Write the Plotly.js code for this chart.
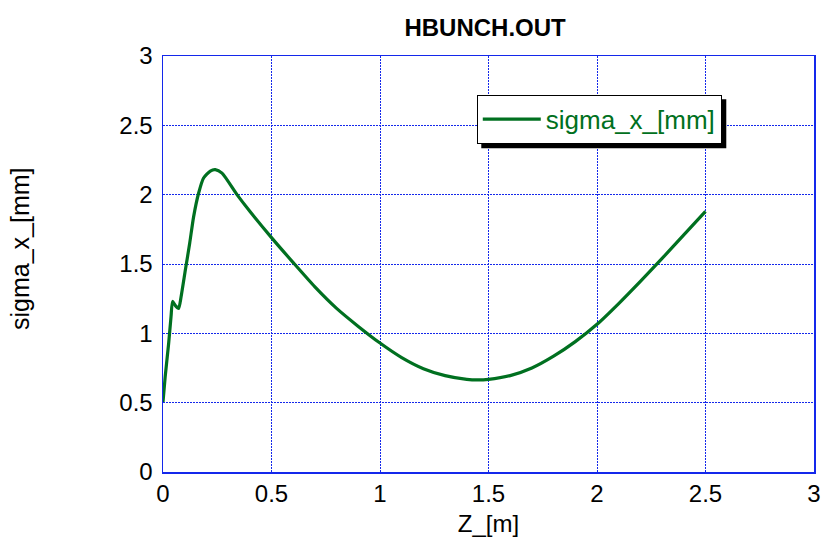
<!DOCTYPE html>
<html>
<head>
<meta charset="utf-8">
<script src="https://cdn.plot.ly/plotly-3.0.1.min.js"></script>
<style>html,body{margin:0;padding:0;background:#fff;}#chart{width:825px;height:545px;}</style>
</head>
<body>
<div id="chart"></div>
<script>
var zValues = [0, 0.01, 0.026, 0.037, 0.044, 0.057, 0.072, 0.083, 0.103, 0.123, 0.141, 0.164, 0.187, 0.218, 0.241, 0.272, 0.341, 0.4, 0.5, 0.6, 0.7, 0.8, 0.9, 1.0, 1.1, 1.2, 1.3, 1.4, 1.45, 1.5, 1.6, 1.7, 1.8, 1.9, 2.0, 2.1, 2.2, 2.3, 2.4, 2.5];
var sigmaX = [0.505, 0.686, 0.927, 1.12, 1.23, 1.2, 1.18, 1.26, 1.456, 1.65, 1.84, 2.01, 2.12, 2.17, 2.18, 2.155, 2.0, 1.88, 1.69, 1.51, 1.335, 1.18, 1.05, 0.93, 0.825, 0.745, 0.695, 0.668, 0.664, 0.668, 0.695, 0.75, 0.835, 0.94, 1.065, 1.215, 1.375, 1.54, 1.71, 1.88];
var seriesName = "sigma_x_[mm]";
var chartTitle = "HBUNCH.OUT";
var xTitle = "Z_[m]";
var yTitle = "sigma_x_[mm]";
var tickVals = [0, 0.5, 1, 1.5, 2, 2.5, 3];
var tickText = ["0", "0.5", "1", "1.5", "2", "2.5", "3"];

var green = "rgb(0,112,32)";
var blue = "rgb(20,40,235)";
var font = "Liberation Sans, Arial, Helvetica, sans-serif";

var trace = {
  x: zValues, y: sigmaX, type: "scatter", mode: "lines", name: seriesName,
  line: {color: green, width: 3.2, shape: "spline", smoothing: 0.6}
};

var axisCommon = {
  range: [0, 3], tickvals: tickVals, ticktext: tickText,
  showgrid: true, gridcolor: blue, gridwidth: 1, griddash: "2px,1px",
  showline: true, linecolor: blue, linewidth: 1.5, mirror: true,
  zeroline: false, ticks: "", tickfont: {family: font, size: 24, color: "#000"}
};

var layout = {
  width: 825, height: 545,
  margin: {l: 163, r: 11, t: 56, b: 73},
  paper_bgcolor: "#fff", plot_bgcolor: "#fff",
  title: {text: "<b>" + chartTitle + "</b>", font: {family: font, size: 24, color: "#000"}, x: 0.588, xanchor: "center", y: 0.95, yanchor: "middle"},
  xaxis: Object.assign({}, axisCommon, {title: {text: xTitle, font: {family: font, size: 24, color: "#000"}, standoff: 9}}),
  yaxis: Object.assign({}, axisCommon, {ticklabelstandoff: 4}),
  showlegend: true,
  legend: {
    x: 0.482, y: 0.907, xanchor: "left", yanchor: "top",
    bgcolor: "#fff", bordercolor: "#000", borderwidth: 1,
    font: {family: font, size: 26, color: green},
    itemwidth: 58
  },
  shapes: [{
    type: "rect", xref: "paper", yref: "paper", layer: "above",
    x0: 0.487, x1: 0.866, y0: 0.794, y1: 0.895,
    fillcolor: "#000", line: {width: 0}
  }],
  annotations: [{
    text: yTitle, xref: "paper", yref: "paper", x: -0.22, y: 0.538,
    xanchor: "center", yanchor: "middle", textangle: -90, showarrow: false,
    font: {family: font, size: 25, color: "#000"}
  }]
};

var gd = document.getElementById("chart");
Plotly.newPlot(gd, [trace], layout, {displayModeBar: false, staticPlot: true}).then(function () {
  // place the drop shadow just behind the legend box, offset by 4px
  var bg = gd.querySelector(".legend .bg");
  if (!bg) return;
  var r = bg.getBoundingClientRect();
  var g = gd.getBoundingClientRect();
  var m = gd._fullLayout._size;
  var off = 4;
  var x0 = (r.left - g.left + off - m.l) / m.w;
  var x1 = (r.right - g.left + off + 1 - m.l) / m.w;
  var y1 = 1 - (r.top - g.top + off - m.t) / m.h;
  var y0 = 1 - (r.bottom - g.top + off + 1 - m.t) / m.h;
  return Plotly.relayout(gd, {"shapes[0].x0": x0, "shapes[0].x1": x1, "shapes[0].y0": y0, "shapes[0].y1": y1});
});
</script>
</body>
</html>
